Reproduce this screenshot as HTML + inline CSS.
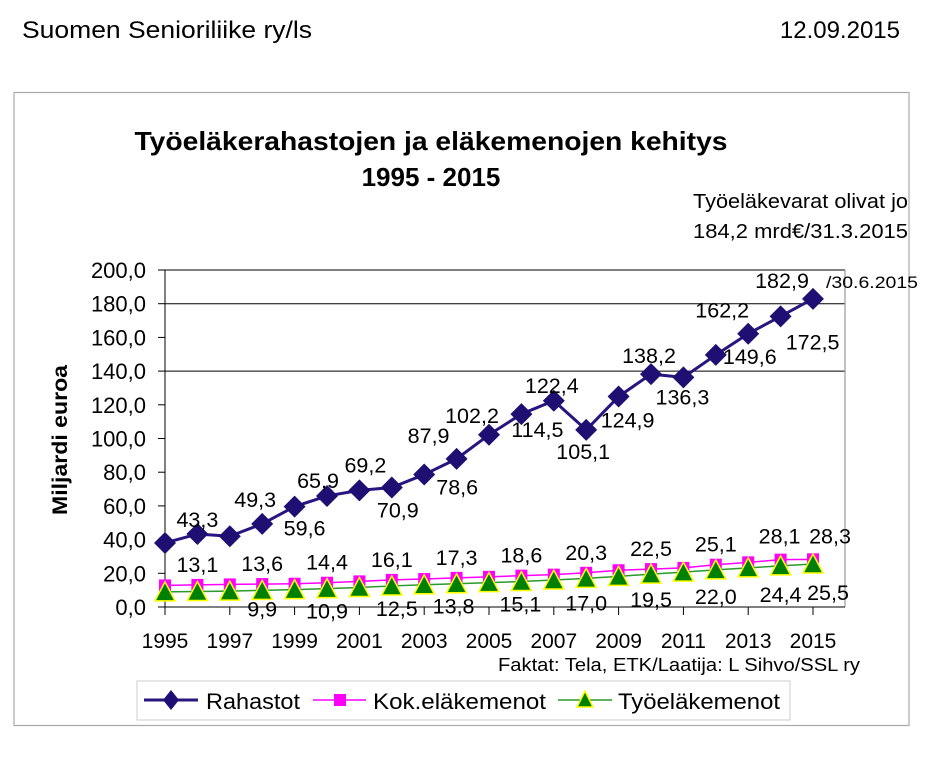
<!DOCTYPE html>
<html><head><meta charset="utf-8"><style>
body{margin:0;background:#fff;width:941px;height:754px;overflow:hidden;font-family:"Liberation Sans",sans-serif}
svg text{font-family:"Liberation Sans",sans-serif}
</style></head><body>
<svg id="c" width="941" height="754" viewBox="0 0 941 754" xmlns="http://www.w3.org/2000/svg">
<text x="22" y="38" font-size="24" textLength="290" lengthAdjust="spacingAndGlyphs">Suomen Senioriliike ry/ls</text>
<text x="900" y="38" font-size="24" text-anchor="end">12.09.2015</text>
<rect x="14" y="92.5" width="895" height="633" fill="#fff" stroke="#aaa" stroke-width="1.2"/>
<text x="431" y="150" font-size="26" font-weight="bold" text-anchor="middle" textLength="593" lengthAdjust="spacingAndGlyphs">Työeläkerahastojen ja eläkemenojen kehitys</text>
<text x="431" y="186" font-size="26" font-weight="bold" text-anchor="middle">1995 - 2015</text>
<text x="908" y="208" font-size="20" text-anchor="end" textLength="215" lengthAdjust="spacingAndGlyphs">Työeläkevarat olivat jo</text>
<text x="908" y="238" font-size="20" text-anchor="end" textLength="215" lengthAdjust="spacingAndGlyphs">184,2 mrd€/31.3.2015</text>
<text transform="translate(67,440) rotate(-90)" font-size="21" font-weight="bold" text-anchor="middle" textLength="150" lengthAdjust="spacingAndGlyphs">Miljardi euroa</text>
<text x="498" y="671" font-size="18" textLength="362" lengthAdjust="spacingAndGlyphs">Faktat: Tela, ETK/Laatija: L Sihvo/SSL ry</text>
<g id="plot"></g>
<g>
<rect x="137" y="681" width="653" height="39" fill="#fff" stroke="#ccc"/>
<g>
<line x1="144" y1="700" x2="198" y2="700" stroke="#2a1480" stroke-width="3"/>
<path d="M171 690 L179 700 L171 710 L163 700Z" fill="#1f0f73"/>
<text x="206" y="709" font-size="22" textLength="94" lengthAdjust="spacingAndGlyphs">Rahastot</text></g>
<g>
<line x1="313" y1="700" x2="366" y2="700" stroke="#ff00ff" stroke-width="1.5"/>
<rect x="334" y="694" width="12" height="12" fill="#ff00ff"/>
<text x="373" y="709" font-size="22" textLength="173" lengthAdjust="spacingAndGlyphs">Kok.eläkemenot</text></g>
<g>
<line x1="558" y1="700" x2="612" y2="700" stroke="#2a9a2a" stroke-width="1.5"/>
<path d="M585 691 L593 707 L577 707Z" fill="#008000" stroke="#ffff00" stroke-width="1.5"/>
<text x="618" y="709" font-size="22" textLength="162" lengthAdjust="spacingAndGlyphs">Työeläkemenot</text></g>
</g>
</svg>
<script>
const years = [1995,1996,1997,1998,1999,2000,2001,2002,2003,2004,2005,2006,2007,2008,2009,2010,2011,2012,2013,2014,2015];
const xTickLabels = ["1995","1997","1999","2001","2003","2005","2007","2009","2011","2013","2015"];
const yTicks = [0,20,40,60,80,100,120,140,160,180,200];
const rahastot = [38.0,43.3,42.0,49.3,59.6,65.9,69.2,70.9,78.6,87.9,102.2,114.5,122.4,105.1,124.9,138.2,136.3,149.6,162.2,172.5,182.9];
const kokMenot = [12.8,13.1,13.4,13.6,13.8,14.4,15.2,16.1,16.6,17.3,17.9,18.6,19.2,20.3,21.8,22.5,23.2,25.1,26.5,28.1,28.3];
const tyoMenot = [9.0,9.2,9.4,9.9,10.3,10.9,11.6,12.5,13.2,13.8,14.5,15.1,16.0,17.0,18.2,19.5,20.7,22.0,23.2,24.4,25.5];

const NS="http://www.w3.org/2000/svg";
const plot=document.getElementById('plot');
const X0=165, XSTEP=32.4, Y0=607, YTOP=270, XR=845;
function xs(i){return X0+i*XSTEP;}
function ys(v){return Y0-(v/200)*(Y0-YTOP);}
function mk(tag,attrs,parent){const e=document.createElementNS(NS,tag);for(const k in attrs)e.setAttribute(k,attrs[k]);(parent||plot).appendChild(e);return e;}
function fmt(v){return v.toFixed(1).replace('.',',');}

[200,180,140].forEach(v=>{
  const g=mk('line',{x1:X0,x2:XR,y1:ys(v),y2:ys(v),stroke:'#000','stroke-width':1});
  
  
});
const rb=mk('line',{x1:XR,x2:XR,y1:YTOP,y2:Y0,stroke:'#999','stroke-width':1.2});


const ya=mk('line',{x1:X0,x2:X0,y1:YTOP,y2:Y0+5,stroke:'#000','stroke-width':1});


const xa=mk('line',{x1:X0,x2:XR,y1:Y0,y2:Y0,stroke:'#000','stroke-width':1});


yTicks.forEach(v=>{
  mk('line',{x1:X0-7,x2:X0,y1:ys(v),y2:ys(v),stroke:'#000'});
  const t=mk('text',{x:146,y:ys(v)+8,'font-size':22,'text-anchor':'end'});
  t.textContent=fmt(v);
  
  
});
xTickLabels.forEach((lab,k)=>{
  const i=years.indexOf(+lab);
  mk('line',{x1:xs(i),x2:xs(i),y1:Y0,y2:Y0+8,stroke:'#000'});
  const t=mk('text',{x:xs(i),y:648,'font-size':21,'text-anchor':'middle'});
  t.textContent=lab;
  
  
});

function line(vals,color,w,name){
  const p=mk('polyline',{points:vals.map((v,i)=>xs(i)+','+ys(v)).join(' '),fill:'none',stroke:color,'stroke-width':w,'stroke-linejoin':'round'});
  
  
}
line(kokMenot,'#ff00ff',1.5,'line-kok-elakemenot');
line(tyoMenot,'#2a9a2a',1.5,'line-tyoelakemenot');
line(rahastot,'#2a1480',3,'line-rahastot');

kokMenot.forEach((v,i)=>{
  const r=mk('rect',{x:xs(i)-6,y:ys(v)-6,width:12,height:12,fill:'#ff00ff'});
  
  
});
tyoMenot.forEach((v,i)=>{
  const x=xs(i),y=ys(v);
  const p=mk('path',{d:`M${x} ${y-10} L${x+10} ${y+9} L${x-10} ${y+9}Z`,fill:'#008000',stroke:'#ffff00','stroke-width':1.5});
  
  
});
rahastot.forEach((v,i)=>{
  const x=xs(i),y=ys(v);
  const p=mk('path',{d:`M${x} ${y-11} L${x+11} ${y} L${x} ${y+11} L${x-11} ${y}Z`,fill:'#1f0f73'});
  
  
});

const rOff={1:[0,-7],3:[-7,-17],4:[10,29],5:[-9,-8],6:[6,-18],7:[6,30],8:[33,20],9:[-28,-16],10:[-17,-12],11:[16,23],12:[-2,-8],13:[-3,29],14:[9,31],15:[-2,-11],16:[-1,27],17:[34,9],18:[-26,-16],19:[32,33],20:[-31,-11]};
const kOff={1:[0,-13],3:[0,-13],5:[0,-13],7:[0,-13],9:[0,-13],11:[0,-13],13:[0,-13],15:[0,-13],17:[0,-13],19:[-1,-16],20:[17,-16]};
const tOff={3:[0,26],5:[0,30],7:[5,30],9:[-3,30],11:[-1,30],13:[0,32],15:[0,33],17:[0,34],19:[0,36],20:[15,36]};
function labels(vals,off,name){
  for(const k in off){
    const i=+k;
    const t=mk('text',{x:xs(i)+off[k][0],y:ys(vals[i])+off[k][1],'font-size':21.5,'text-anchor':'middle'});
    t.textContent=fmt(vals[i]);
    
    
  }
}
labels(rahastot,rOff,'data-label-rahastot');
labels(kokMenot,kOff,'data-label-kok');
labels(tyoMenot,tOff,'data-label-tyo');
const n=mk('text',{x:xs(20)+13,y:ys(rahastot[20])-11,'font-size':17,textLength:92,lengthAdjust:'spacingAndGlyphs'});
n.textContent='/30.6.2015';


</script>
</body></html>
